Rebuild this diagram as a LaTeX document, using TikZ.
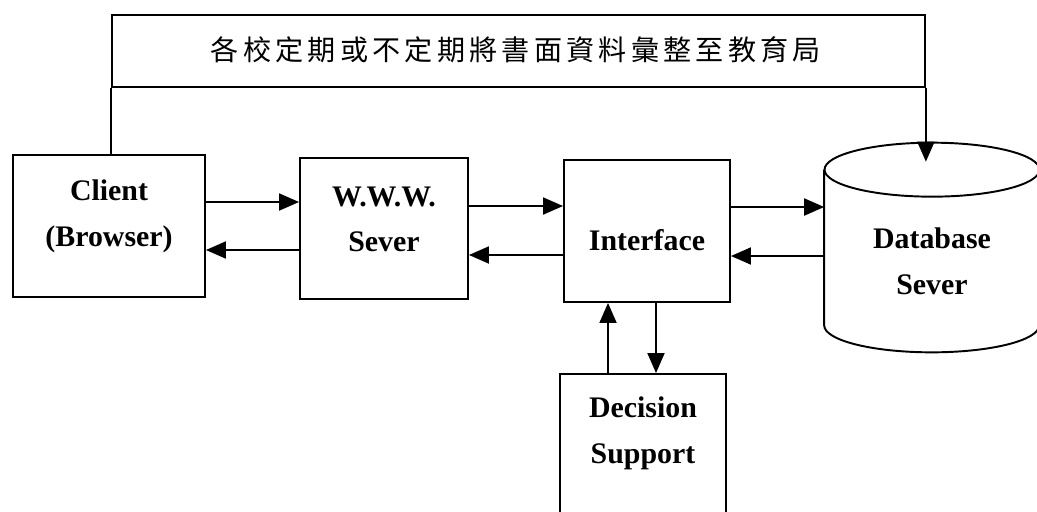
\documentclass[tikz,border=0pt]{standalone}
\usepackage{fontspec}
\setmainfont{Liberation Serif}
\newfontfamily\cjk[LetterSpace=15]{Noto Sans CJK TC}
\usetikzlibrary{arrows.meta}
\begin{document}
\begin{tikzpicture}[x=0.02cm, y=-0.02cm,
  box/.style={draw, line width=1.1pt, inner sep=0pt},
  txt/.style={align=center, font=\bfseries\fontsize{17}{26}\selectfont},
  arr/.style={line width=1.1pt, -{Triangle[length=0.4cm, width=0.34cm]}},
  ln/.style={line width=1.1pt}]
\clip (0,0) rectangle (1037,511);
\node[box, minimum width=16.26cm, minimum height=1.44cm] (note) at (518.5,51){};
\node[font=\cjk\fontsize{16}{18}\selectfont] (notetxt) at (516,50){各校定期或不定期將書面資料彙整至教育局};
\node[box, minimum width=3.84cm, minimum height=2.84cm] (client) at (109,226){};
\node[txt] (clienttxt) at (109,216){Client\\(Browser)};
\node[box, minimum width=3.36cm, minimum height=2.82cm] (www) at (384,228.5){};
\node[txt] (wwwtxt) at (384,219.5){W.W.W.\\Sever};
\node[box, minimum width=3.32cm, minimum height=2.84cm] (int) at (647,231){};
\node[txt] (inttxt) at (647,240){Interface};
\node[box, minimum width=3.32cm, minimum height=3.12cm] (dec) at (643,452){};
\node[txt] (dectxt) at (643,433){Decision\\Support};
% database cylinder
\node[minimum width=4.3cm, minimum height=3.1cm, inner sep=0pt] (db) at (932,247.5){};
\draw[ln] (db.north) ellipse [x radius=2.15cm, y radius=0.54cm];
\draw[ln] (db.north west) -- (db.south west) arc [start angle=180, end angle=360, x radius=2.15cm, y radius=0.54cm] -- (db.north east);
\node[txt] (dbtxt) at (932,261.5){Database\\Sever};
\coordinate (dbtip) at ([yshift=0.16cm]db.north);
% connectors
\draw[ln] (note.south west) -- (note.south west |- client.north);
\draw[arr] (note.south east) -- (note.south east |- dbtip);
\draw[arr] ([yshift=0.48cm]client.east) -- ([yshift=0.48cm]client.east -| www.west);
\draw[arr] ([yshift=-0.43cm]www.west) -- ([yshift=-0.43cm]www.west -| client.east);
\draw[arr] ([yshift=0.45cm]www.east) -- ([yshift=0.45cm]www.east -| int.west);
\draw[arr] ([yshift=-0.48cm]int.west) -- ([yshift=-0.48cm]int.west -| www.east);
\draw[arr] ([yshift=0.48cm]int.east) -- ([yshift=0.48cm]int.east -| db.west);
\draw[arr] ([yshift=-0.17cm]db.west) -- ([yshift=-0.17cm]db.west -| int.east);
\draw[arr] ([xshift=0.18cm]int.south) -- ([xshift=0.18cm]int.south |- dec.north);
\draw[arr] ([xshift=-0.7cm]dec.north) -- ([xshift=-0.7cm]dec.north |- int.south);
\end{tikzpicture}
\end{document}
